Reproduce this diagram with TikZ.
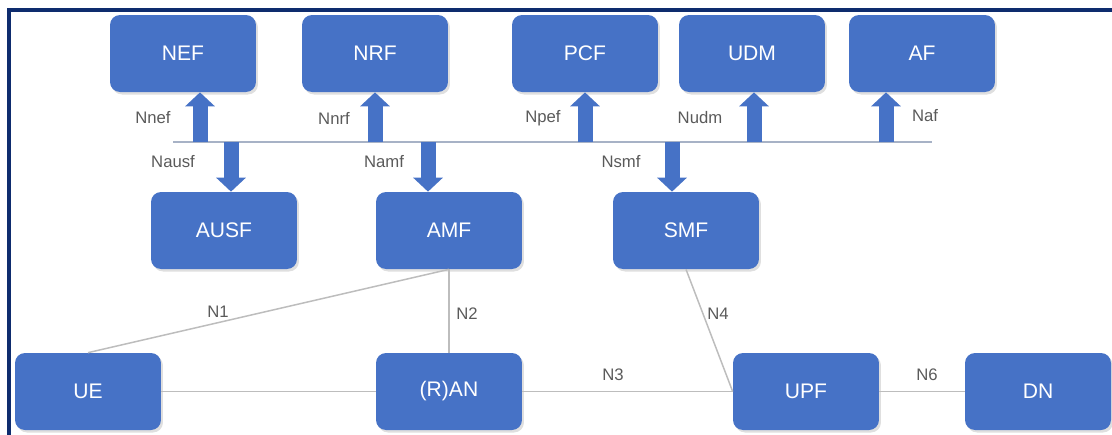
\documentclass[tikz,border=0pt]{standalone}
\usepackage{fontspec}
\setmainfont{Liberation Sans}
\usetikzlibrary{arrows.meta,shadows}
\definecolor{nfblue}{HTML}{4672C6}
\definecolor{framenavy}{HTML}{0E2C6E}
\definecolor{linkgray}{HTML}{BDBDBD}
\definecolor{busgray}{HTML}{A7B2C6}
\definecolor{lblgray}{HTML}{5A5A5A}
\tikzset{
  nf/.style={draw=none, fill=nfblue, rounded corners=0.2cm,
    minimum width=2.92cm, minimum height=1.54cm, text=white,
    font=\fontsize{12}{14}\selectfont,
    drop shadow={opacity=0.25, shadow xshift=0.04cm, shadow yshift=-0.05cm}},
  lbl/.style={text=lblgray, font=\fontsize{9.5}{11}\selectfont, inner sep=0pt},
  link/.style={draw=linkgray, line width=0.85pt},
  iface/.style={draw=nfblue, line width=0.3cm,
    -{Triangle[width=0.58cm, length=0.28cm]}},
}
\begin{document}
\begin{tikzpicture}[x=0.02cm, y=-0.02cm]
  \useasboundingbox (0,0) rectangle (1112,434);
  \draw[framenavy, line width=2.3pt] (9,440) |- (1120,10);
  % network functions
  \node[nf] (NEF) at (183,53.5) {NEF};
  \node[nf] (NRF) at (375,53.5) {NRF};
  \node[nf] (PCF) at (585,53.5) {PCF};
  \node[nf] (UDM) at (752,53.5) {UDM};
  \node[nf] (AF) at (922,53.5) {AF};
  \node[nf] (AUSF) at (224,230.5) {AUSF};
  \node[nf] (AMF) at (449,230.5) {AMF};
  \node[nf] (SMF) at (686,230.5) {SMF};
  \node[nf] (UE) at (88,391.5) {UE};
  \node[nf] (RAN) at (449,391.5) {(R)AN};
  \node[nf] (UPF) at (806,391.5) {UPF};
  \node[nf] (DN) at (1038,391.5) {DN};
  % service bus
  \coordinate (busw) at (173,142);
  \coordinate (buse) at (932,142);
  \draw[draw=busgray, line width=0.8pt] (busw) -- (buse);
  \coordinate (bnef) at (200,142);
  \coordinate (bnrf) at (375,142);
  \coordinate (bpcf) at (585,142);
  \coordinate (budm) at (754,142);
  \coordinate (baf) at (886,142);
  \coordinate (bausf) at (231,142);
  \coordinate (bamf) at (428,142);
  \coordinate (bsmf) at (672,142);
  \draw[iface] (bnef) -- (bnef |- NEF.south);
  \draw[iface] (bnrf) -- (bnrf |- NRF.south);
  \draw[iface] (bpcf) -- (bpcf |- PCF.south);
  \draw[iface] (budm) -- (budm |- UDM.south);
  \draw[iface] (baf) -- (baf |- AF.south);
  \draw[iface] (bausf) -- (bausf |- AUSF.north);
  \draw[iface] (bamf) -- (bamf |- AMF.north);
  \draw[iface] (bsmf) -- (bsmf |- SMF.north);
  \node[lbl] (lnef) at (153,118) {Nnef};
  \node[lbl] (lnrf) at (334,118) {Nnrf};
  \node[lbl] (lpcf) at (543,118) {Npef};
  \node[lbl] (ludm) at (700,118) {Nudm};
  \node[lbl] (laf) at (925,116) {Naf};
  \node[lbl] (lausf) at (173,162) {Nausf};
  \node[lbl] (lamf) at (384,162) {Namf};
  \node[lbl] (lsmf) at (621,162) {Nsmf};
  % reference points
  \draw[link] (UE.north) -- (AMF.south);
  \draw[link] (AMF.south) -- (RAN.north);
  \draw[link] (SMF.south) -- (UPF.west);
  \draw[link] (UE.east) -- (RAN.west);
  \draw[link] (RAN.east) -- (UPF.west);
  \draw[link] (UPF.east) -- (DN.west);
  \node[lbl] (n1) at (218,312) {N1};
  \node[lbl] (n2) at (467,314) {N2};
  \node[lbl] (n4) at (718,314) {N4};
  \node[lbl] (n3) at (613,375) {N3};
  \node[lbl] (n6) at (927,375) {N6};
\end{tikzpicture}
\end{document}
